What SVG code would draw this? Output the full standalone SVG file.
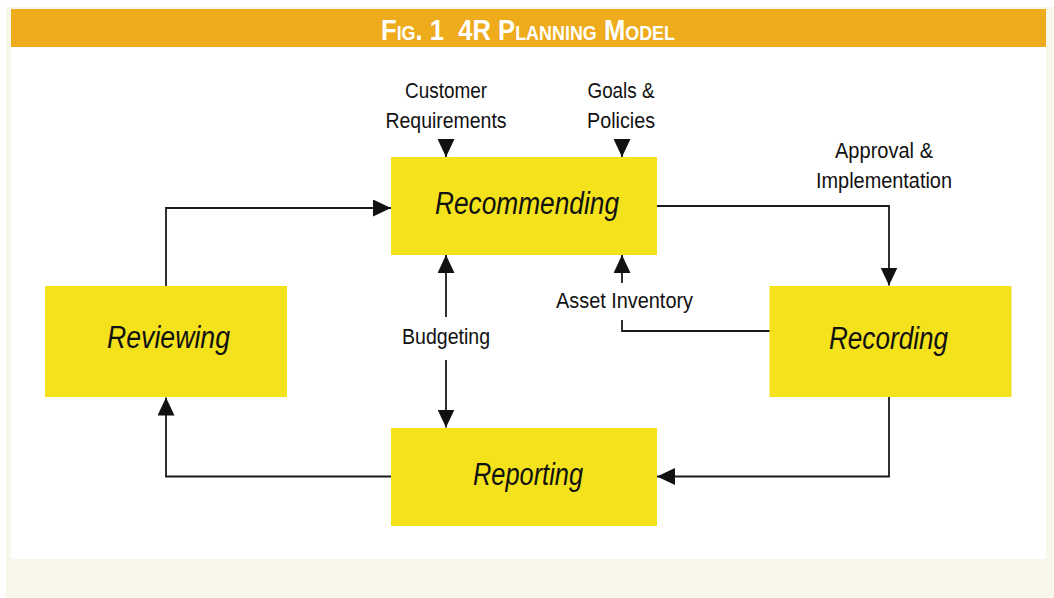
<svg xmlns="http://www.w3.org/2000/svg" width="1054" height="598" viewBox="0 0 1054 598">
  <style>
    .box { fill: #F4E21C; }
    .node-label { font-family: "Liberation Sans", Arial, sans-serif; font-style: italic; font-size: 31px; fill: #111; text-anchor: middle; }
    .lbl { font-family: "Liberation Sans", Arial, sans-serif; font-size: 22px; fill: #111; text-anchor: middle; }
    .conn { fill: none; stroke: #1a1a1a; stroke-width: 1.8; }
    .title { font-family: "Liberation Sans", Arial, sans-serif; font-weight: bold; fill: #fff; font-size: 30px; font-variant: small-caps; }
  </style>
  <defs>
    <marker id="arrow" markerUnits="userSpaceOnUse" markerWidth="18" markerHeight="17" refX="18" refY="8.5" orient="auto">
      <path d="M0,0 L18,8.5 L0,17 z" fill="#111"/>
    </marker>
  </defs>

  <g id="background">
    <rect x="0" y="0" width="1054" height="598" fill="#ffffff"/>
    <rect x="6" y="7" width="1048" height="591" fill="#F9F6EA"/>
    <rect x="11" y="9" width="1035" height="38" fill="#EEAB1B"/>
    <rect x="11" y="47" width="1035" height="512" fill="#ffffff"/>
  </g>

  <g id="title">
    <text class="title" x="381" y="40" xml:space="preserve" textLength="294" lengthAdjust="spacingAndGlyphs">Fig. 1  4R Planning Model</text>
  </g>

  <g id="connectors">
    <path class="conn" d="M166,286 V208 H391" marker-end="url(#arrow)"/>
    <path class="conn" d="M657,206 H889 V285.5" marker-end="url(#arrow)"/>
    <path class="conn" d="M889,397 V476.5 H657" marker-end="url(#arrow)"/>
    <path class="conn" d="M391,476.5 H166 V397.5" marker-end="url(#arrow)"/>
    <path class="conn" d="M446,317 V255" marker-end="url(#arrow)"/>
    <path class="conn" d="M446,360 V427.5" marker-end="url(#arrow)"/>
    <path class="conn" d="M770,331 H622 V320"/>
    <path class="conn" d="M622,283 V255" marker-end="url(#arrow)"/>
    <path class="conn" d="M446,139 V157" marker-end="url(#arrow)"/>
    <path class="conn" d="M622,139 V157" marker-end="url(#arrow)"/>
  </g>

  <g id="labels">
    <text class="lbl" x="446" y="98" textLength="82" lengthAdjust="spacingAndGlyphs">Customer</text>
    <text class="lbl" x="446" y="128" textLength="121" lengthAdjust="spacingAndGlyphs">Requirements</text>
    <text class="lbl" x="621" y="98" textLength="67" lengthAdjust="spacingAndGlyphs">Goals &amp;</text>
    <text class="lbl" x="621" y="128" textLength="68" lengthAdjust="spacingAndGlyphs">Policies</text>
    <text class="lbl" x="884" y="158" textLength="98" lengthAdjust="spacingAndGlyphs">Approval &amp;</text>
    <text class="lbl" x="884" y="188" textLength="136" lengthAdjust="spacingAndGlyphs">Implementation</text>
    <text class="lbl" x="624.5" y="308" textLength="137" lengthAdjust="spacingAndGlyphs">Asset Inventory</text>
    <text class="lbl" x="446" y="344" textLength="88" lengthAdjust="spacingAndGlyphs">Budgeting</text>
  </g>

  <g id="recommending">
    <rect class="box" x="391" y="157" width="266" height="98"/>
    <text class="node-label" x="527" y="214" textLength="184" lengthAdjust="spacingAndGlyphs">Recommending</text>
  </g>
  <g id="reviewing">
    <rect class="box" x="45" y="286" width="242" height="111"/>
    <text class="node-label" x="168.5" y="348" textLength="123" lengthAdjust="spacingAndGlyphs">Reviewing</text>
  </g>
  <g id="recording">
    <rect class="box" x="769.5" y="286" width="242" height="111"/>
    <text class="node-label" x="888.5" y="349" textLength="119" lengthAdjust="spacingAndGlyphs">Recording</text>
  </g>
  <g id="reporting">
    <rect class="box" x="391" y="428" width="266" height="98"/>
    <text class="node-label" x="528" y="485" textLength="110" lengthAdjust="spacingAndGlyphs">Reporting</text>
  </g>
</svg>
